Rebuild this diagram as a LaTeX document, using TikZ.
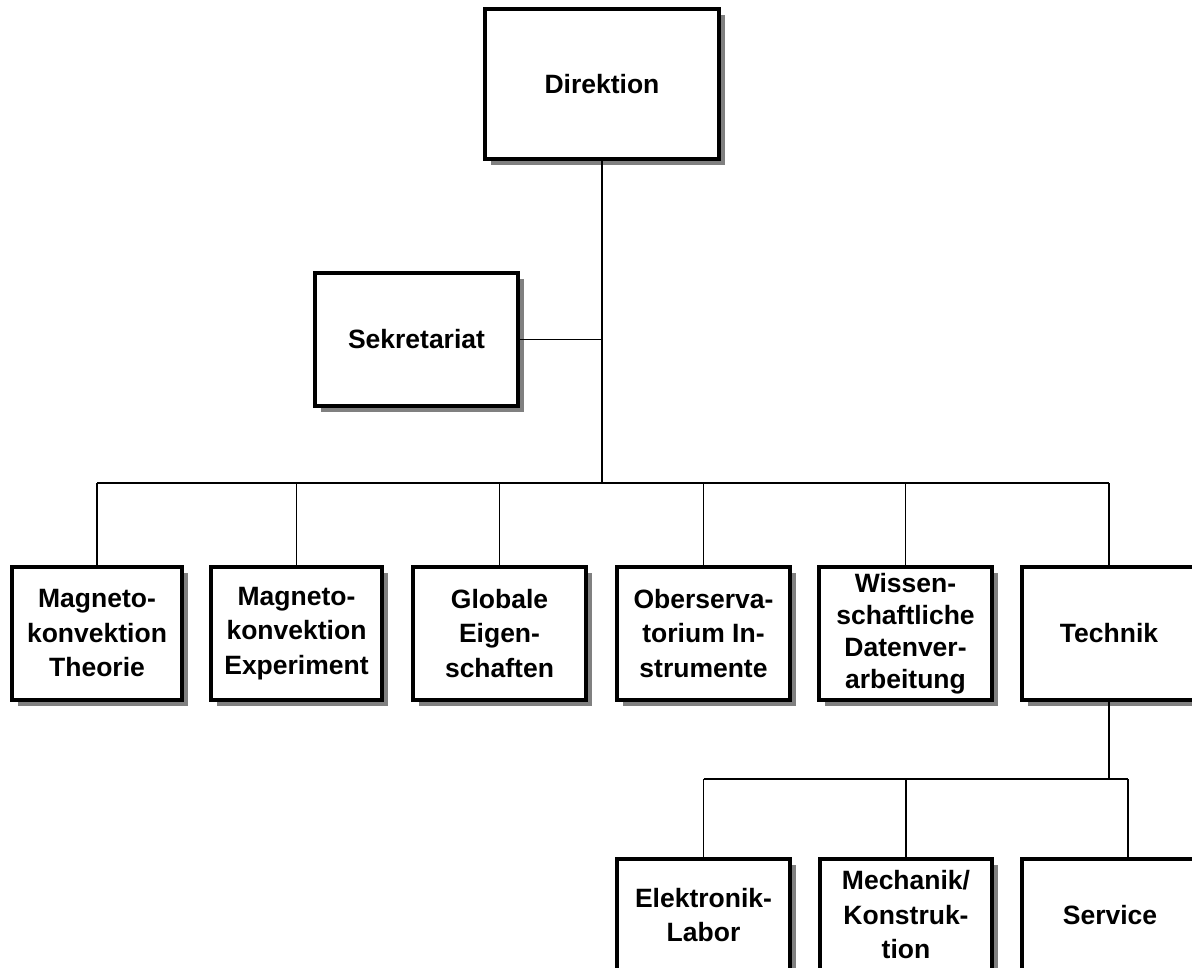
\documentclass[tikz,border=0pt]{standalone}
\usepackage{fontspec}
\setmainfont{Liberation Sans}
\usetikzlibrary{shadows}
\begin{document}
\begin{tikzpicture}[x=1pt,y=-1pt,
  orgbox/.style={draw, line width=3.2pt, fill=white, inner sep=0pt, align=center,
    font=\bfseries\fontsize{26.5}{34.5}\selectfont,
    drop shadow={shadow xshift=5.5pt, shadow yshift=-5.5pt, fill=black!50, opacity=1}},
  rowbox/.style={orgbox, minimum width=173pt, minimum height=133pt},
  lowbox/.style={orgbox, minimum width=173pt, minimum height=112pt},
  conn/.style={line width=1.6pt}]
\useasboundingbox (0,0) rectangle (1192,967);
\clip (0,0) rectangle (1192,967);

\coordinate (bar) at (601,483);
\coordinate (tbar) at (1105,779);

\node[orgbox, minimum width=234pt, minimum height=150pt] (dir) at (602,84) {Direktion};
\node[orgbox, minimum width=203pt, minimum height=133pt] (sek) at (416.5,339.5) {Sekretariat};

\node[rowbox, minimum width=170pt] (b1) at (97,633.5) {Magneto-\\konvektion\\Theorie};
\node[rowbox, minimum width=171pt] (b2) at (296.5,633.5) {Magneto-\\konvektion\\Experiment};
\node[rowbox] (b3) at (499.5,633.5) {Globale\\Eigen-\\schaften};
\node[rowbox] (b4) at (703.5,633.5) {Oberserva-\\torium In-\\strumente};
\node[rowbox, font=\bfseries\fontsize{26.5}{32}\selectfont] (b5) at (905.5,633.5) {Wissen-\\schaftliche\\Datenver-\\arbeitung};
\node[rowbox, minimum width=174pt] (b6) at (1109,633.5) {Technik};

\node[lowbox] (elek) at (703.5,915) {Elektronik-\\Labor};
\node[lowbox, minimum width=172pt] (mech) at (906,915) {Mechanik/\\Konstruk-\\tion};
\node[lowbox, minimum width=176pt] (serv) at (1110,915) {Service};
\coordinate (servtop) at ([xshift=18pt]serv.north);

\draw[conn] (dir.south) -- (dir.south |- bar);
\draw[conn] (sek.east) -- (sek.east -| dir.south);
\draw[conn] (b1.north |- bar) -- (b6.north |- bar);
\foreach \b in {b1,b2,b3,b4,b5,b6}{
  \draw[conn] (\b.north |- bar) -- (\b.north);
}
\draw[conn] (b6.south) -- (b6.south |- tbar);
\draw[conn] (elek.north |- tbar) -- (servtop |- tbar);
\draw[conn] (elek.north |- tbar) -- (elek.north);
\draw[conn] (mech.north |- tbar) -- (mech.north);
\draw[conn] (servtop |- tbar) -- (servtop);
\end{tikzpicture}
\end{document}
